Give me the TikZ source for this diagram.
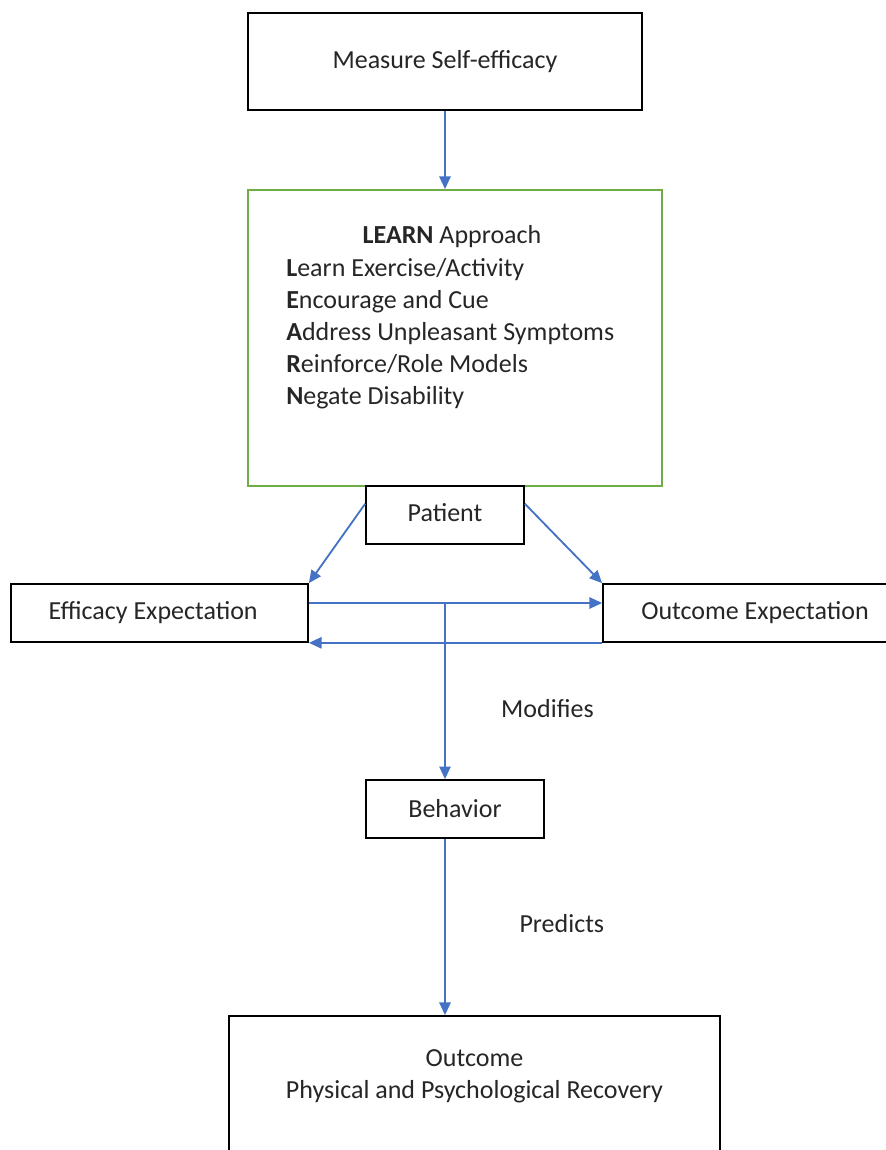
\documentclass[tikz,border=0pt]{standalone}
\usepackage{fontspec}
\setmainfont{Carlito}
\usetikzlibrary{arrows.meta}
\definecolor{arrowblue}{RGB}{68,114,196}
\definecolor{boxgreen}{RGB}{112,173,71}
\tikzset{
  every node/.style={font=\fontsize{18.5}{22.8}\selectfont, text=black!85},
  box/.style={draw=black, line width=1.2pt, inner sep=0pt, fill=white},
  greenbox/.style={draw=boxgreen, line width=1.2pt, inner sep=0pt},
  flow/.style={draw=arrowblue, line width=1.3pt, -{Triangle[length=9pt,width=8pt]}},
  plain/.style={draw=arrowblue, line width=1.3pt}
}
\begin{document}
\begin{tikzpicture}[x=0.025cm,y=-0.025cm]
	\useasboundingbox (0,0) rectangle (886,1150);
	\clip (0,0) rectangle (886,1150);
	% boxes
	\node[box, minimum width=9.85cm, minimum height=2.425cm] (measure) at (445,61.5) {Measure Self-efficacy};
	\node[greenbox, minimum width=10.35cm, minimum height=7.4cm] (learn) at (455,338) {};
	\node (learnhead) at (452,237) {\textbf{LEARN} Approach};
	\foreach [count=\i] \txt in {{\textbf{L}earn Exercise/Activity}, {\textbf{E}ncourage and Cue}, {\textbf{A}ddress Unpleasant Symptoms}, {\textbf{R}einforce/Role Models}, {\textbf{N}egate Disability}}
		\node[anchor=base west, inner sep=0pt] (learn\i) at (286,244+32*\i) {\txt};
	\node[box, minimum width=3.95cm, minimum height=1.45cm] (patient) at (445,515) {\raisebox{3pt}{Patient}};
	\node[box, minimum width=7.425cm, minimum height=1.45cm] (efficacy) at (159.5,613) {\hspace{-9pt}Efficacy Expectation};
	\node[box, minimum width=7.425cm, minimum height=1.45cm] (outexp) at (751.5,613) {\hspace{5pt}Outcome Expectation};
	\node[box, minimum width=4.45cm, minimum height=1.45cm] (behavior) at (455,809) {Behavior};
	\node[box, minimum width=12.275cm, minimum height=5cm] (outcome) at (474.5,1116) {};
	\node[align=center] (outcometext) at (474.5,1076) {Outcome\\Physical and Psychological Recovery};
	% connectors
	\coordinate (mid) at (445,603);
	\draw[flow] (measure.south) -- (measure.south |- learn.north);
	\draw[flow] (patient.172) -- (efficacy.north east);
	\draw[flow] (patient.8) -- (outexp.north west);
	\draw[flow] (mid -| efficacy.east) -- (mid -| outexp.west);
	\draw[flow] (outexp.south west) -- (efficacy.south east);
	\draw[flow] (mid) -- (mid |- behavior.north) node[pos=0.6, right=36pt] (modifies) {Modifies};
	\draw[flow] (mid |- behavior.south) -- (mid |- outcome.north) node[pos=0.48, right=49pt] (predicts) {Predicts};
\end{tikzpicture}
\end{document}
